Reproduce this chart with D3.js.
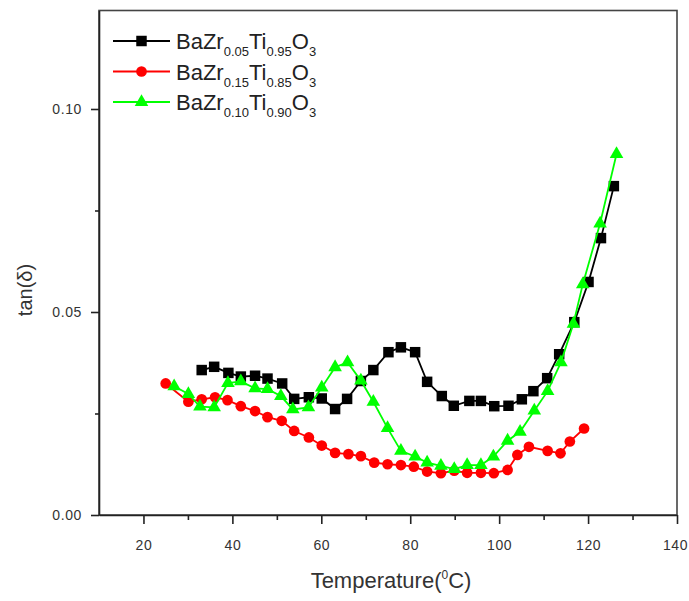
<!DOCTYPE html>
<html>
<head>
<meta charset="utf-8">
<script src="https://cdn.jsdelivr.net/npm/d3@7"></script>
<style>
  body { margin: 0; background: #fff; }
  svg { display: block; font-family: "Liberation Sans", Arial, sans-serif; }
  .axis path, .axis line { stroke: #222; stroke-width: 1.6; }
  .axis text { font-size: 14px; fill: #333; letter-spacing: 0.6px; }
</style>
</head>
<body>
<div class="chart"></div>
<script>
// temperature (°C) / tan(delta) for each composition
const tempZr05 = [33.1, 35.9, 39.1, 41.9, 45.1, 47.9, 51.2, 53.9, 57.2, 60.1, 63.1, 65.8, 68.9, 71.7, 75.1, 77.9,
                  81.1, 83.8, 87.1, 89.8, 93.3, 95.9, 98.9, 102.1, 105.1, 107.7, 110.8, 113.5, 116.9, 120.1, 122.9, 125.8];
const tanZr05  = [0.0357, 0.0365, 0.0350, 0.0341, 0.0343, 0.0336, 0.0324, 0.0286, 0.0290, 0.0287, 0.0261, 0.0286,
                  0.0330, 0.0357, 0.0401, 0.0413, 0.0401, 0.0328, 0.0293, 0.0269, 0.0281, 0.0281, 0.0268, 0.0269,
                  0.0285, 0.0305, 0.0337, 0.0396, 0.0475, 0.0574, 0.0682, 0.0810];

const tempZr15 = [25.0, 30.1, 33.1, 36.1, 38.9, 41.9, 45.1, 47.9, 51.1, 53.9, 57.2, 60.1, 63.1, 66.1, 68.9, 71.9,
                  74.9, 77.9, 80.8, 83.8, 86.9, 89.9, 92.8, 95.9, 98.8, 101.9, 104.1, 106.7, 110.9, 113.8, 115.9, 119.1];
const tanZr15  = [0.0324, 0.0279, 0.0285, 0.0290, 0.0283, 0.0268, 0.0256, 0.0241, 0.0232, 0.0207, 0.0191, 0.0171,
                  0.0153, 0.0150, 0.0145, 0.0129, 0.0125, 0.0123, 0.0119, 0.0107, 0.0103, 0.0109, 0.0104, 0.0104,
                  0.0103, 0.0111, 0.0148, 0.0168, 0.0158, 0.0152, 0.0181, 0.0213];

const tempZr10 = [26.9, 30.1, 32.7, 35.9, 39.0, 41.9, 45.1, 47.9, 50.9, 53.6, 57.1, 60.1, 63.1, 65.9, 68.9, 71.7,
                  74.9, 77.9, 81.1, 83.8, 86.9, 89.9, 92.8, 95.9, 98.7, 101.9, 104.7, 107.9, 110.9, 113.9, 116.7,
                  118.8, 122.7, 126.4];
const tanZr10  = [0.0317, 0.0298, 0.0267, 0.0265, 0.0325, 0.0329, 0.0312, 0.0310, 0.0293, 0.0260, 0.0265, 0.0314,
                  0.0364, 0.0376, 0.0331, 0.0279, 0.0214, 0.0158, 0.0144, 0.0129, 0.0121, 0.0113, 0.0123, 0.0123,
                  0.0144, 0.0183, 0.0205, 0.0257, 0.0305, 0.0376, 0.0471, 0.0568, 0.0718, 0.0889];

const xMajor = [20, 40, 60, 80, 100, 120, 140];
const xMinor = [30, 50, 70, 90, 110, 130];
const yMajor = [0, 0.05, 0.10];
const yMinor = [0.025, 0.075];

// subscripts for BaZr(x)Ti(1-x)O3
const labels = [["0.05", "0.95"], ["0.15", "0.85"], ["0.10", "0.90"]];

const series = [
  {temp: tempZr05, tan: tanZr05, color: "#000000", symbol: d3.symbolSquare,   size: 110, label: labels[0]},
  {temp: tempZr15, tan: tanZr15, color: "#ff0000", symbol: d3.symbolCircle,   size: 90,  label: labels[1]},
  {temp: tempZr10, tan: tanZr10, color: "#00ff00", symbol: d3.symbolTriangle, size: 80,  label: labels[2]}
];

const W = 689, H = 601;
const plot = {left: 99, right: 677, top: 10.5, bottom: 515};

const svg = d3.select(".chart").append("svg")
    .attr("width", W).attr("height", H);

const x = d3.scaleLinear().domain([10, 140]).range([plot.left, plot.right]);
const y = d3.scaleLinear().domain([0, 0.12426]).range([plot.bottom, plot.top]);

// frame
svg.append("rect")
    .attr("x", plot.left).attr("y", plot.top)
    .attr("width", plot.right - plot.left).attr("height", plot.bottom - plot.top)
    .attr("fill", "none").attr("stroke", "#444").attr("stroke-width", 1.6);

// axes
svg.append("g").attr("class", "axis")
    .attr("transform", `translate(0,${plot.bottom})`)
    .call(d3.axisBottom(x).tickValues(xMinor).tickSize(5).tickFormat(""))
    .call(g => g.select(".domain").remove());
svg.append("g").attr("class", "axis")
    .attr("transform", `translate(0,${plot.bottom})`)
    .call(d3.axisBottom(x).tickValues(xMajor).tickSize(9).tickPadding(16).tickSizeOuter(0).tickFormat(d3.format("d")))
    .call(g => g.selectAll("text").attr("dx", d => d === 140 ? -2 : 0));

svg.append("g").attr("class", "axis")
    .attr("transform", `translate(${plot.left},0)`)
    .call(d3.axisLeft(y).tickValues(yMinor).tickSize(4).tickFormat(""))
    .call(g => g.select(".domain").remove());
svg.append("g").attr("class", "axis")
    .attr("transform", `translate(${plot.left},0)`)
    .call(d3.axisLeft(y).tickValues(yMajor).tickSize(8).tickPadding(9).tickSizeOuter(0).tickFormat(d3.format(".2f")));

// axis titles
const xt = svg.append("text")
    .attr("x", (plot.left + plot.right) / 2 + 3).attr("y", 588)
    .attr("text-anchor", "middle")
    .attr("font-size", 22).attr("fill", "#333");
xt.append("tspan").text("Temperature(");
xt.append("tspan").attr("font-size", 12).attr("dy", -9).text("0");
xt.append("tspan").attr("dy", 9).text("C)");

svg.append("text")
    .attr("transform", "translate(32,290) rotate(-90)")
    .attr("text-anchor", "middle")
    .attr("font-size", 20).attr("fill", "#333")
    .text("tan(δ)");

// lines and markers
const line = d3.line().x(d => x(d[0])).y(d => y(d[1]));

series.forEach(s => {
  const pts = s.temp.map((t, i) => [t, s.tan[i]]);
  svg.append("path")
      .datum(pts)
      .attr("fill", "none")
      .attr("stroke", s.color)
      .attr("stroke-width", 1.8)
      .attr("d", line);
  svg.append("g").selectAll("path")
      .data(pts)
      .join("path")
      .attr("transform", d => `translate(${x(d[0])},${y(d[1])})`)
      .attr("d", d3.symbol(s.symbol, s.size))
      .attr("fill", s.color);
});

// legend
const legend = svg.append("g");
series.forEach((s, i) => {
  const ly = 41 + i * 30.5;
  legend.append("line")
      .attr("x1", 113).attr("x2", 170).attr("y1", ly).attr("y2", ly)
      .attr("stroke", s.color).attr("stroke-width", 2.2);
  legend.append("path")
      .attr("transform", `translate(141.5,${ly})`)
      .attr("d", d3.symbol(s.symbol, s.size))
      .attr("fill", s.color);
  const t = legend.append("text")
      .attr("x", 176).attr("y", ly + 8)
      .attr("font-size", 22).attr("fill", "#222");
  t.append("tspan").text("BaZr");
  t.append("tspan").attr("font-size", 13).attr("dy", 7).text(s.label[0]);
  t.append("tspan").attr("dy", -7).text("Ti");
  t.append("tspan").attr("font-size", 13).attr("dy", 7).text(s.label[1]);
  t.append("tspan").attr("dy", -7).text("O");
  t.append("tspan").attr("font-size", 13).attr("dy", 7).text("3");
});
</script>
</body>
</html>
